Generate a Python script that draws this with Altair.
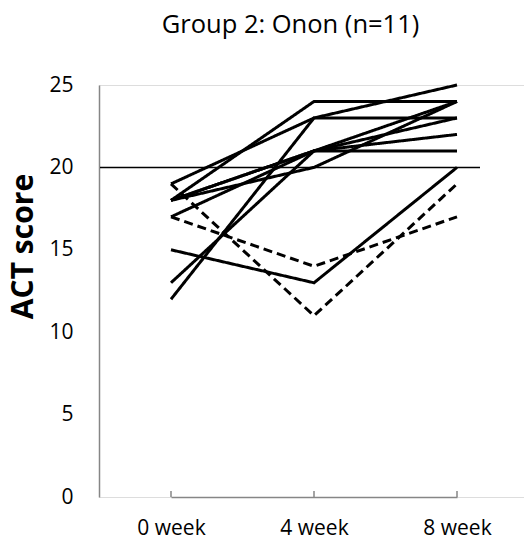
import altair as alt
import pandas as pd

# ---- data ----
weeks = ["0 week", "4 week", "8 week"]
week0 = [19, 18, 12, 13, 18, 18, 17, 18, 15, 17, 19]
week4 = [23, 24, 23, 21, 21, 21, 21, 20, 13, 14, 11]
week8 = [25, 24, 23, 21, 24, 22, 23, 24, 20, 17, 19]
line_style = ["solid"] * 9 + ["dashed"] * 2
y_ticks = [0, 5, 10, 15, 20, 25]
threshold = [20]

rows = []
for i in range(len(week0)):
    for w, v in zip(weeks, (week0[i], week4[i], week8[i])):
        rows.append({"pid": i, "week": w, "score": v, "style": line_style[i]})
df = pd.DataFrame(rows)
ticks_df = pd.DataFrame({"week": weeks})
thr_df = pd.DataFrame({"score": threshold})

FONT = "Open Sans"
AXIS_GREY = "#868686"

x_scale = alt.Scale(type="point", range=[72, 358], padding=0)
y_scale = alt.Scale(domain=[0, 25], nice=False, zero=True)

x_enc = alt.X("week:N", sort=weeks, scale=x_scale,
              axis=alt.Axis(title=None, labelAngle=0, labelFont=FONT, labelFontSize=21,
                            labelColor="#000", labelPadding=20, ticks=False,
                            domainColor=AXIS_GREY, domainWidth=1.5, grid=False))
y_enc = alt.Y("score:Q", scale=y_scale,
              axis=alt.Axis(values=y_ticks, title="ACT score", titleFont=FONT, titleFontSize=30,
                            titleFontWeight="bold", titleColor="#000", titleAngle=270,
                            titleAlign="center", titleBaseline="middle", titleX=-76, titleY=161,
                            labelFont=FONT, labelFontSize=21, labelColor="#000", labelPadding=26,
                            ticks=False, domainColor=AXIS_GREY, domainWidth=1.5, grid=False))

lines = alt.Chart(df).mark_line(color="black", strokeWidth=3).encode(
    x=x_enc,
    y=y_enc,
    detail="pid:N",
    strokeDash=alt.StrokeDash("style:N",
                              scale=alt.Scale(domain=["solid", "dashed"], range=[[1, 0], [9, 5]]),
                              legend=None),
)

ticks = alt.Chart(ticks_df).mark_rule(color=AXIS_GREY, strokeWidth=1.5).encode(
    x=x_enc,
    y=alt.value(412),
    y2=alt.value(406),
)

ref = alt.Chart(thr_df).mark_rule(color="black", strokeWidth=1.5).encode(
    y=y_enc,
    x=alt.value(1),
    x2=alt.value(381),
)

chart = alt.layer(ticks, lines, ref).properties(
    width=425,
    height=412,
    padding={"left": 99, "top": 85, "right": 0, "bottom": 43},
    autosize=alt.AutoSizeParams(type="none"),
    title=alt.TitleParams("Group 2: Onon (n=11)", font=FONT, fontSize=25.5, fontWeight="normal",
                          color="#000", anchor="middle", dx=-21, offset=36),
).configure_view(strokeWidth=0).configure(background="white")

chart.save("out.html", embed_options={"renderer": "svg", "actions": False})
